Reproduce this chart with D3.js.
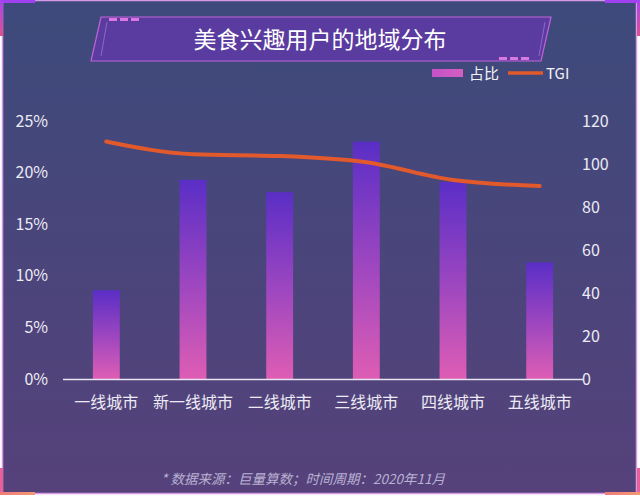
<!DOCTYPE html>
<html><head><meta charset="utf-8">
<script src="https://cdn.jsdelivr.net/npm/d3@7"></script>
<style>html,body{margin:0;padding:0;background:#fff;overflow:hidden}svg{display:block}</style>
</head><body>
<script>
const categories = ["一线城市","新一线城市","二线城市","三线城市","四线城市","五线城市"];
const shareValues = [8.6, 19.3, 18.1, 23.0, 19.1, 11.3];
const tgiValues = [110.5, 104.5, 103.7, 100.8, 92.6, 89.8];
const leftTicks = [0, 5, 10, 15, 20, 25];
const rightTicks = [0, 20, 40, 60, 80, 100, 120];
const title = "美食兴趣用户的地域分布";
const legendLabels = ["占比", "TGI"];
const footnote = "* 数据来源：巨量算数；时间周期：2020年11月";

const W = 640, H = 497;
const font = "'Noto Sans CJK SC','Noto Sans',sans-serif";
const svg = d3.select("body").append("svg").attr("width", W).attr("height", H);
const defs = svg.append("defs");

const bg = defs.append("linearGradient").attr("id","bg").attr("x1",0).attr("y1",0).attr("x2",0).attr("y2",1);
bg.append("stop").attr("offset","0%").attr("stop-color","#3d4a7b");
bg.append("stop").attr("offset","100%").attr("stop-color","#56417b");

const barG = defs.append("linearGradient").attr("id","barG").attr("x1",0).attr("y1",0).attr("x2",0).attr("y2",1);
barG.append("stop").attr("offset","0%").attr("stop-color","#5a2ec6");
barG.append("stop").attr("offset","55%").attr("stop-color","#a148bf");
barG.append("stop").attr("offset","100%").attr("stop-color","#de5db4");

const legG = defs.append("linearGradient").attr("id","legG").attr("x1",0).attr("y1",0).attr("x2",1).attr("y2",0);
legG.append("stop").attr("offset","0%").attr("stop-color","#c552c8");
legG.append("stop").attr("offset","100%").attr("stop-color","#d35fc2");

const cornerG = defs.append("linearGradient").attr("id","cornerG").attr("x1",0).attr("y1",0).attr("x2",0).attr("y2",1);
cornerG.append("stop").attr("offset","0%").attr("stop-color","#a346f0");
cornerG.append("stop").attr("offset","100%").attr("stop-color","#e0508f");

const cornerB = defs.append("linearGradient").attr("id","cornerB").attr("x1",0).attr("y1",0).attr("x2",1).attr("y2",0);
cornerB.append("stop").attr("offset","0%").attr("stop-color","#f07a7a");
cornerB.append("stop").attr("offset","100%").attr("stop-color","#f29a70");

// background frame
svg.append("rect").attr("x",2).attr("y",0).attr("width",635).attr("height",494).attr("fill","url(#bg)");
svg.append("rect").attr("x",2.5).attr("y",0.5).attr("width",634).attr("height",493)
  .attr("fill","none").attr("stroke","#d89ae6").attr("stroke-width",1.5);
// corner accents
svg.append("rect").attr("x",0).attr("y",0).attr("width",35).attr("height",3).attr("fill","#a040f0");
svg.append("rect").attr("x",0).attr("y",0).attr("width",3).attr("height",36).attr("fill","url(#cornerG)");
svg.append("rect").attr("x",605).attr("y",0).attr("width",35).attr("height",3).attr("fill","#a040f0");
svg.append("rect").attr("x",637).attr("y",0).attr("width",3).attr("height",36).attr("fill","url(#cornerG)");
svg.append("rect").attr("x",0).attr("y",468).attr("width",3).attr("height",27).attr("fill","#e8609a");
svg.append("rect").attr("x",0).attr("y",492).attr("width",35).attr("height",3).attr("fill","url(#cornerB)");
svg.append("rect").attr("x",637).attr("y",468).attr("width",3).attr("height",27).attr("fill","#e8609a");
svg.append("rect").attr("x",605).attr("y",492).attr("width",35).attr("height",3).attr("fill","url(#cornerB)");

// title banner
const tg = svg.append("g");
tg.append("path").attr("d","M101,17 L551,17 L541,61 L91,61 Z")
  .attr("fill","#5a3ba0").attr("stroke","#c064d6").attr("stroke-width",1.2);
tg.append("path").attr("d","M107,22 L101,56 M545,22 L539,56").attr("stroke","#a070d0").attr("stroke-width",0.8).attr("fill","none");
[0,1,2].forEach(i=>{
  tg.append("rect").attr("x",109+i*11).attr("y",18).attr("width",8).attr("height",3).attr("fill","#d978e0");
  tg.append("rect").attr("x",499+i*11).attr("y",57).attr("width",8).attr("height",3).attr("fill","#d978e0");
});
tg.append("text").attr("x",320).attr("y",48).attr("text-anchor","middle")
  .attr("font-family",font).attr("font-size",23).attr("fill","#ffffff").text(title);

// legend
svg.append("rect").attr("x",432).attr("y",69).attr("width",31).attr("height",8).attr("fill","url(#legG)");
svg.append("text").attr("x",469).attr("y",79).attr("font-family",font).attr("font-size",15).attr("fill","#f2f2f8").text(legendLabels[0]);
svg.append("line").attr("x1",508).attr("x2",543).attr("y1",73).attr("y2",73).attr("stroke","#e2592b").attr("stroke-width",3.5);
svg.append("text").attr("x",546).attr("y",79).attr("font-family",font).attr("font-size",15).attr("fill","#f2f2f8").text(legendLabels[1]);

// scales
const x = d3.scaleBand().domain(categories).range([63,583]).paddingInner(0.69).paddingOuter(0.345);
const yL = d3.scaleLinear().domain([0,25]).range([379,121]);
const yR = d3.scaleLinear().domain([0,120]).range([379,121]);

const axL = svg.append("g").attr("transform","translate(48,0)")
  .call(d3.axisLeft(yL).tickValues(leftTicks).tickFormat(d=>d+"%").tickSize(0).tickPadding(0));
const axR = svg.append("g").attr("transform","translate(582,0)")
  .call(d3.axisRight(yR).tickValues(rightTicks).tickSize(0).tickPadding(0));
[axL,axR].forEach(a=>{
  a.select(".domain").remove();
  a.selectAll("text").attr("font-family",font).attr("font-size",16).attr("fill","#ecebf4");
});

// bars
svg.append("g").selectAll("rect").data(categories).join("rect")
  .attr("x",d=>x(d)).attr("width",x.bandwidth())
  .attr("y",(d,i)=>yL(shareValues[i])).attr("height",(d,i)=>yL(0)-yL(shareValues[i]))
  .attr("fill","url(#barG)");

// baseline
svg.append("line").attr("x1",63).attr("x2",583).attr("y1",379.5).attr("y2",379.5).attr("stroke","#e8e4f0").attr("stroke-width",1.5);

// category axis
const axX = svg.append("g").attr("transform","translate(0,390)")
  .call(d3.axisBottom(x).tickSize(0).tickPadding(0));
axX.select(".domain").remove();
axX.selectAll("text").attr("font-family",font).attr("font-size",16).attr("fill","#ecebf4").attr("dy","1.1em");

// TGI line
const line = d3.line().x((d,i)=>x(categories[i])+x.bandwidth()/2).y(d=>yR(d)).curve(d3.curveMonotoneX);
svg.append("path").datum(tgiValues).attr("d",line).attr("fill","none")
  .attr("stroke","#e2592b").attr("stroke-width",4).attr("stroke-linecap","round");

// footnote
svg.append("text").attr("x",303).attr("y",484).attr("text-anchor","middle")
  .attr("font-family",font).attr("font-size",13.5).attr("font-style","italic").attr("fill","#b9b2d2").text(footnote);
</script>
</body></html>
